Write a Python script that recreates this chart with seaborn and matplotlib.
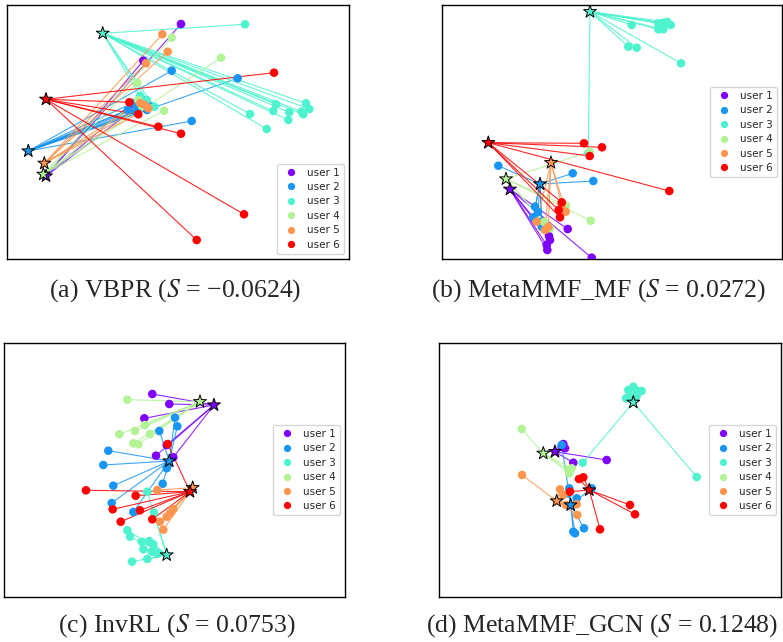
import numpy as np
import pandas as pd
import matplotlib
matplotlib.use("Agg")
import matplotlib.pyplot as plt
import seaborn as sns

# ---------------- data (2-D embedding coordinates) -------------
USERS = ["user 1", "user 2", "user 3", "user 4", "user 5", "user 6"]
TITLES = ["(a) VBPR ($S$ = −0.0624)", "(b) MetaMMF_MF ($S$ = 0.0272)",
          "(c) InvRL ($S$ = 0.0753)", "(d) MetaMMF_GCN ($S$ = 0.1248)"]

# (a) VBPR
VBPR_CX = [46, 28.3, 102.7, 43.3, 44.3, 46]
VBPR_CY = [176, 151, 33.3, 174.3, 163.3, 99.3]
VBPR_ITEMS = {
    "user 1": [(181, 24), (143.3, 60.7), (145, 100.7), (131, 104)],
    "user 2": [(171.7, 70.7), (237.7, 78.3), (191.7, 121), (133, 103), (138, 108), (143, 104),
               (147, 110), (136, 112), (150, 106), (128, 110)],
    "user 3": [(245, 24.3), (306, 103.3), (309.3, 109), (303.3, 114.3), (301.7, 111.7), (289.3, 112.3),
               (288.3, 120), (276, 104.3), (273.3, 111), (250, 114), (266.7, 129), (154.3, 106.7),
               (146.7, 100), (140, 96)],
    "user 4": [(171.7, 37.7), (221, 57.7), (164, 110.7), (137.3, 82.7), (138.3, 100), (142, 106)],
    "user 5": [(162.3, 34.3), (167.7, 51.7), (146, 63.3), (148.3, 108.3), (140, 103), (145, 105)],
    "user 6": [(274, 72.7), (129.3, 102.3), (138.3, 114.3), (158.3, 126.7), (181, 133.7), (244, 214.3),
               (196.7, 240)],
}

# (b) MetaMMF_MF
MF_CX = [510, 540, 590, 506, 551, 488.3]
MF_CY = [189.3, 184, 11.7, 179, 162.7, 142.7]
MF_ITEMS = {
    "user 1": [(567.7, 229), (591.7, 257.7), (550, 240), (546.7, 245), (547.3, 250), (549, 236)],
    "user 2": [(498.3, 165.7), (572.7, 173.3), (593.3, 181), (535, 206.7), (533.3, 217.3), (541.7, 221.7),
               (541.7, 226.7), (538, 212)],
    "user 3": [(631.7, 25), (658.3, 23.3), (663.3, 22.7), (667.3, 22), (670.7, 25), (658.3, 29.3),
               (663.3, 29.3), (628.3, 46.7), (636.7, 47.7), (681, 63.3), (588.3, 153)],
    "user 4": [(589.7, 151.7), (590.7, 220.7), (566, 205.7), (550, 228.3), (544, 222)],
    "user 5": [(565.7, 211.7), (536.7, 221.7), (545, 230), (548.3, 226.7), (561.7, 205)],
    "user 6": [(584, 143.3), (602, 147.3), (589.7, 156), (669.3, 191), (561.7, 202.3), (558.7, 210),
               (560, 217.3)],
}

# (c) InvRL
INV_CX = [214, 169.3, 166.7, 200, 192.7, 190]
INV_CY = [405, 461, 555, 401.7, 487.7, 491.7]
INV_ITEMS = {
    "user 1": [(152.3, 394), (169.3, 404), (144.3, 418.3), (156, 455.7), (173.3, 457.3), (166.7, 445)],
    "user 2": [(108.3, 450.7), (103.3, 465), (113.3, 485.7), (111.7, 503), (133.3, 512), (162.7, 483.7),
               (159.3, 431), (177.3, 426.3), (175, 417.7), (166.7, 468.3), (168, 465)],
    "user 3": [(127.3, 530.3), (130, 536.7), (141.7, 541.7), (149.3, 541), (153.3, 544.3), (143.3, 549.3),
               (151.7, 551.7), (157.3, 553.7), (132, 561.7), (147.3, 559), (147.3, 491.7), (154, 512.7)],
    "user 4": [(127.3, 399.7), (119.3, 434.3), (135, 431), (145, 425), (150, 434), (133.3, 443.3),
               (138.3, 444.3)],
    "user 5": [(157.3, 490), (163.3, 529.7), (160, 521.7), (170, 513.3), (173.3, 509), (166.7, 516.7)],
    "user 6": [(86, 490.3), (135.7, 495.7), (112.7, 509.3), (140, 510.3), (120.7, 521.7), (152.3, 519.3),
               (167.7, 444)],
}

# (d) MetaMMF_GCN
GCN_CX = [555, 570.7, 633.3, 543.3, 556.7, 589.3]
GCN_CY = [451.7, 505, 402.3, 453.3, 501, 490]
GCN_ITEMS = {
    "user 1": [(563.3, 444), (561.7, 446.7), (565, 448.3), (573.3, 462.7), (606.7, 460)],
    "user 2": [(561.7, 445), (569.3, 488.3), (576.7, 498.3), (568.3, 493.3), (573.3, 531.7), (575, 533.3),
               (584, 528.3), (591.7, 488.3)],
    "user 3": [(628.3, 390), (633.3, 386.7), (636.7, 390.7), (641.7, 391), (626, 398.3), (631.7, 396.7),
               (636.7, 396), (582.7, 462.7), (696.7, 477)],
    "user 4": [(521.7, 429), (568.3, 470), (571.7, 468.3), (569.3, 473.3)],
    "user 5": [(522, 475), (560, 489.3), (563.3, 495), (566, 505), (576.7, 504.3), (577.3, 515)],
    "user 6": [(579, 479), (583.3, 477.3), (570, 491.7), (630, 505), (635, 514.3), (600, 529.3)],
}

# ---------------- style -------------
sns.set_style("white")
plt.rcParams["mathtext.fontset"] = "stix"
PALETTE = dict(zip(USERS, plt.cm.rainbow(np.linspace(0, 1, len(USERS)))))

W, H = 783, 642
fig = plt.figure(figsize=(W / 100, H / 100), dpi=100)

# axes boxes in pixel units: (left, right, top, bottom)
BOXES = [(7, 349, 5, 259), (442, 782, 5, 259), (4, 345, 343, 597), (439, 781, 343, 597)]
CAPTIONS = [(175, 291), (598, 291), (177, 626), (602, 626)]
LEG_LOC = ["lower right", "center right", "center right", "center right"]
PANELS = [(VBPR_CX, VBPR_CY, VBPR_ITEMS), (MF_CX, MF_CY, MF_ITEMS),
          (INV_CX, INV_CY, INV_ITEMS), (GCN_CX, GCN_CY, GCN_ITEMS)]

for (cx, cy, items), (l, r, t, b), (capx, capy), loc, title in zip(PANELS, BOXES, CAPTIONS, LEG_LOC, TITLES):
    ax = fig.add_axes([l / W, 1 - b / H, (r - l) / W, (b - t) / H])
    centers = pd.DataFrame({"x": cx, "y": cy, "user": USERS})
    rows = [(x, y, u) for u in USERS for (x, y) in items[u]]
    df = pd.DataFrame(rows, columns=["x", "y", "user"])

    # lines from each user to its items
    for _, row in df.iterrows():
        ui = USERS.index(row["user"])
        ax.plot([cx[ui], row["x"]], [cy[ui], row["y"]], color=PALETTE[row["user"]],
                lw=0.8, alpha=0.85, zorder=1)

    sns.scatterplot(data=df, x="x", y="y", hue="user", hue_order=USERS, palette=PALETTE,
                    s=38, edgecolor="none", linewidth=0, ax=ax, zorder=3)
    sns.scatterplot(data=centers, x="x", y="y", hue="user", hue_order=USERS, palette=PALETTE,
                    marker="*", s=95, edgecolor="black", linewidth=0.7, ax=ax, zorder=4, legend=False)

    ax.set_xlim(l, r)
    ax.set_ylim(b, t)
    ax.set_xticks([])
    ax.set_yticks([])
    ax.set_xlabel("")
    ax.set_ylabel("")
    for sp in ax.spines.values():
        sp.set_color("black")
        sp.set_linewidth(1.0)

    sns.move_legend(ax, loc, title=None, prop={"size": 7.5, "weight": "medium"}, frameon=True,
                    markerscale=0.85, borderaxespad=0.5, handletextpad=0.5, labelspacing=0.42)

    fig.text(capx / W, 1 - capy / H, title, ha="center", va="center",
             fontsize=18.5, family="Liberation Serif")

fig.savefig("out.png", dpi=100)
